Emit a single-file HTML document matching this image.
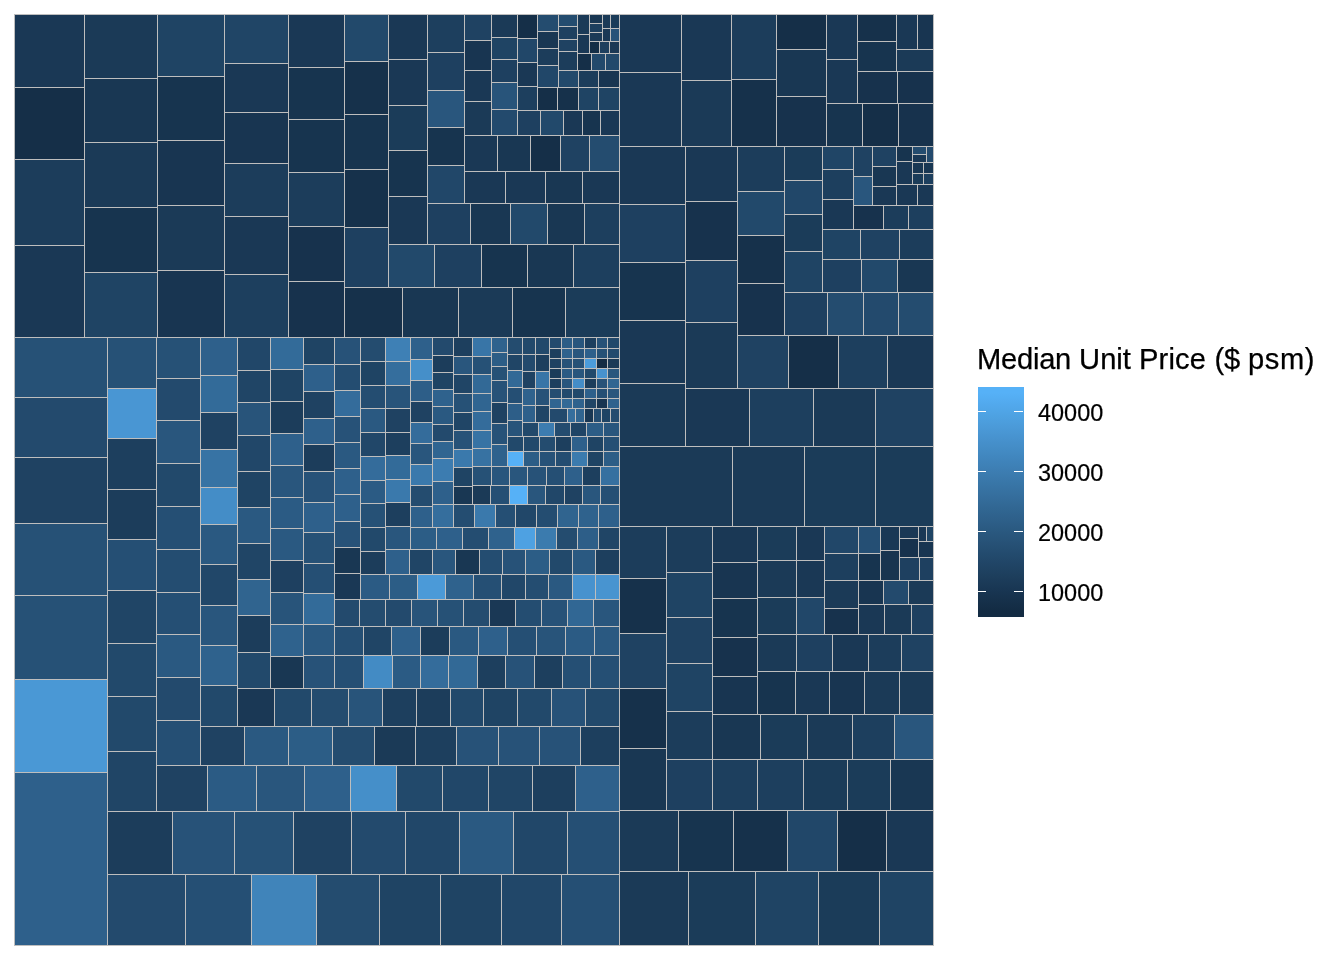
<!DOCTYPE html>
<html lang="en">
<head>
<meta charset="utf-8">
<title>Median Unit Price treemap</title>
<style>
html,body{margin:0;padding:0;background:#fff;}
body{width:1344px;height:960px;overflow:hidden;position:relative;font-family:"Liberation Sans",Arial,sans-serif;}
svg{position:absolute;left:0;top:0;display:block;}
svg text{font-family:"Liberation Sans",Arial,sans-serif;fill:#000;}
</style>
</head>
<body>
<svg width="1344" height="960" viewBox="0 0 1344 960">
<rect x="0" y="0" width="1344" height="960" fill="#ffffff"/>
<g stroke="#bebebe" stroke-width="1.0" stroke-linejoin="miter" shape-rendering="crispEdges">
<rect x="14.5" y="14.5" width="70" height="73" fill="#1a3855"/>
<rect x="14.5" y="87.5" width="70" height="72" fill="#152f48"/>
<rect x="14.5" y="159.5" width="70" height="86" fill="#1c3d5b"/>
<rect x="14.5" y="245.5" width="70" height="92" fill="#1a3855"/>
<rect x="84.5" y="14.5" width="73" height="64" fill="#1b3a57"/>
<rect x="84.5" y="78.5" width="73" height="64" fill="#193753"/>
<rect x="84.5" y="142.5" width="73" height="65" fill="#1b3a57"/>
<rect x="84.5" y="207.5" width="73" height="65" fill="#17344f"/>
<rect x="84.5" y="272.5" width="73" height="65" fill="#1f4464"/>
<rect x="157.5" y="14.5" width="67" height="62" fill="#1f4464"/>
<rect x="157.5" y="76.5" width="67" height="64" fill="#17344f"/>
<rect x="157.5" y="140.5" width="67" height="65" fill="#183551"/>
<rect x="157.5" y="205.5" width="67" height="65" fill="#1b3a57"/>
<rect x="157.5" y="270.5" width="67" height="67" fill="#183551"/>
<rect x="224.5" y="14.5" width="64" height="49" fill="#204566"/>
<rect x="224.5" y="63.5" width="64" height="49" fill="#1a3855"/>
<rect x="224.5" y="112.5" width="64" height="51" fill="#183551"/>
<rect x="224.5" y="163.5" width="64" height="53" fill="#1c3d5b"/>
<rect x="224.5" y="216.5" width="64" height="58" fill="#1a3855"/>
<rect x="224.5" y="274.5" width="64" height="63" fill="#1d3f5e"/>
<rect x="288.5" y="14.5" width="56" height="53" fill="#1a3855"/>
<rect x="288.5" y="67.5" width="56" height="52" fill="#17344f"/>
<rect x="288.5" y="119.5" width="56" height="53" fill="#17344f"/>
<rect x="288.5" y="172.5" width="56" height="54" fill="#1c3d5b"/>
<rect x="288.5" y="226.5" width="56" height="55" fill="#17324d"/>
<rect x="288.5" y="281.5" width="56" height="56" fill="#17324d"/>
<rect x="344.5" y="14.5" width="44" height="47" fill="#22496b"/>
<rect x="344.5" y="61.5" width="44" height="53" fill="#16314b"/>
<rect x="344.5" y="114.5" width="44" height="55" fill="#17344f"/>
<rect x="344.5" y="169.5" width="44" height="58" fill="#16314b"/>
<rect x="344.5" y="227.5" width="44" height="60" fill="#1e4060"/>
<rect x="388.5" y="14.5" width="39" height="45" fill="#1a3855"/>
<rect x="388.5" y="59.5" width="39" height="46" fill="#1a3855"/>
<rect x="388.5" y="105.5" width="39" height="45" fill="#1b3c59"/>
<rect x="388.5" y="150.5" width="39" height="46" fill="#17344f"/>
<rect x="388.5" y="196.5" width="39" height="48" fill="#1a3855"/>
<rect x="427.5" y="14.5" width="37" height="38" fill="#1d3f5e"/>
<rect x="427.5" y="52.5" width="37" height="38" fill="#1e4060"/>
<rect x="427.5" y="90.5" width="37" height="37" fill="#29567d"/>
<rect x="427.5" y="127.5" width="37" height="38" fill="#17344f"/>
<rect x="427.5" y="165.5" width="37" height="38" fill="#214769"/>
<rect x="464.5" y="14.5" width="27" height="26" fill="#1f4262"/>
<rect x="464.5" y="40.5" width="27" height="30" fill="#183551"/>
<rect x="464.5" y="70.5" width="27" height="31" fill="#1a3855"/>
<rect x="464.5" y="101.5" width="27" height="34" fill="#1b3a57"/>
<rect x="491.5" y="14.5" width="26" height="23" fill="#1b3a57"/>
<rect x="491.5" y="37.5" width="26" height="22" fill="#1f4464"/>
<rect x="491.5" y="59.5" width="26" height="23" fill="#1e4060"/>
<rect x="491.5" y="82.5" width="26" height="27" fill="#28547a"/>
<rect x="491.5" y="109.5" width="26" height="26" fill="#234a6d"/>
<rect x="517.5" y="14.5" width="20" height="24" fill="#152f48"/>
<rect x="517.5" y="38.5" width="20" height="24" fill="#214769"/>
<rect x="517.5" y="62.5" width="20" height="24" fill="#1a3855"/>
<rect x="517.5" y="86.5" width="20" height="24" fill="#1d3f5e"/>
<rect x="537.5" y="14.5" width="21" height="17" fill="#244c6f"/>
<rect x="537.5" y="31.5" width="21" height="17" fill="#193753"/>
<rect x="537.5" y="48.5" width="21" height="17" fill="#1c3d5b"/>
<rect x="537.5" y="65.5" width="21" height="22" fill="#214769"/>
<rect x="558.5" y="14.5" width="19" height="12" fill="#244c6f"/>
<rect x="558.5" y="26.5" width="19" height="13" fill="#1e4060"/>
<rect x="558.5" y="39.5" width="19" height="12" fill="#1f4262"/>
<rect x="558.5" y="51.5" width="19" height="19" fill="#1c3d5b"/>
<rect x="577.5" y="14.5" width="12" height="20" fill="#1b3a57"/>
<rect x="577.5" y="34.5" width="12" height="19" fill="#1a3855"/>
<rect x="589.5" y="14.5" width="13" height="9" fill="#193753"/>
<rect x="589.5" y="23.5" width="13" height="9" fill="#1d3f5e"/>
<rect x="589.5" y="32.5" width="13" height="9" fill="#1b3a57"/>
<rect x="602.5" y="14.5" width="8" height="14" fill="#1b3a57"/>
<rect x="602.5" y="28.5" width="8" height="13" fill="#1a3855"/>
<rect x="610.5" y="14.5" width="9" height="14" fill="#1b3c59"/>
<rect x="610.5" y="28.5" width="9" height="13" fill="#275278"/>
<rect x="589.5" y="41.5" width="10" height="12" fill="#142e46"/>
<rect x="599.5" y="41.5" width="10" height="12" fill="#1d3f5e"/>
<rect x="609.5" y="41.5" width="10" height="12" fill="#1a3855"/>
<rect x="577.5" y="53.5" width="14" height="17" fill="#152f48"/>
<rect x="591.5" y="53.5" width="14" height="17" fill="#22496b"/>
<rect x="605.5" y="53.5" width="14" height="17" fill="#22496b"/>
<rect x="558.5" y="70.5" width="20" height="17" fill="#22496b"/>
<rect x="578.5" y="70.5" width="20" height="17" fill="#1c3d5b"/>
<rect x="598.5" y="70.5" width="21" height="17" fill="#183551"/>
<rect x="537.5" y="87.5" width="20" height="23" fill="#152f48"/>
<rect x="557.5" y="87.5" width="21" height="23" fill="#16314b"/>
<rect x="578.5" y="87.5" width="20" height="23" fill="#1f4464"/>
<rect x="598.5" y="87.5" width="21" height="23" fill="#1f4464"/>
<rect x="517.5" y="110.5" width="23" height="25" fill="#1e4060"/>
<rect x="540.5" y="110.5" width="23" height="25" fill="#22496b"/>
<rect x="563.5" y="110.5" width="19" height="25" fill="#1a3855"/>
<rect x="582.5" y="110.5" width="18" height="25" fill="#17344f"/>
<rect x="600.5" y="110.5" width="19" height="25" fill="#1a3855"/>
<rect x="464.5" y="135.5" width="33" height="36" fill="#1a3855"/>
<rect x="497.5" y="135.5" width="33" height="36" fill="#193753"/>
<rect x="530.5" y="135.5" width="30" height="36" fill="#152f48"/>
<rect x="560.5" y="135.5" width="29" height="36" fill="#1f4262"/>
<rect x="589.5" y="135.5" width="30" height="36" fill="#244c6f"/>
<rect x="464.5" y="171.5" width="41" height="32" fill="#1a3855"/>
<rect x="505.5" y="171.5" width="40" height="32" fill="#1a3855"/>
<rect x="545.5" y="171.5" width="37" height="32" fill="#193753"/>
<rect x="582.5" y="171.5" width="37" height="32" fill="#1a3855"/>
<rect x="427.5" y="203.5" width="43" height="41" fill="#1e4060"/>
<rect x="470.5" y="203.5" width="40" height="41" fill="#193753"/>
<rect x="510.5" y="203.5" width="37" height="41" fill="#22496b"/>
<rect x="547.5" y="203.5" width="37" height="41" fill="#193753"/>
<rect x="584.5" y="203.5" width="35" height="41" fill="#1d3f5e"/>
<rect x="388.5" y="244.5" width="46" height="43" fill="#22496b"/>
<rect x="434.5" y="244.5" width="47" height="43" fill="#1e4060"/>
<rect x="481.5" y="244.5" width="46" height="43" fill="#17344f"/>
<rect x="527.5" y="244.5" width="46" height="43" fill="#193753"/>
<rect x="573.5" y="244.5" width="46" height="43" fill="#1d3f5e"/>
<rect x="344.5" y="287.5" width="58" height="50" fill="#16314b"/>
<rect x="402.5" y="287.5" width="56" height="50" fill="#193753"/>
<rect x="458.5" y="287.5" width="54" height="50" fill="#1b3a57"/>
<rect x="512.5" y="287.5" width="53" height="50" fill="#17344f"/>
<rect x="565.5" y="287.5" width="54" height="50" fill="#1b3c59"/>
<rect x="14.5" y="337.5" width="93" height="60" fill="#265176"/>
<rect x="14.5" y="397.5" width="93" height="60" fill="#234a6d"/>
<rect x="14.5" y="457.5" width="93" height="66" fill="#1f4262"/>
<rect x="14.5" y="523.5" width="93" height="72" fill="#265176"/>
<rect x="14.5" y="595.5" width="93" height="84" fill="#265176"/>
<rect x="14.5" y="679.5" width="93" height="93" fill="#4a98d5"/>
<rect x="14.5" y="772.5" width="93" height="173" fill="#2e608b"/>
<rect x="107.5" y="337.5" width="49" height="51" fill="#265176"/>
<rect x="107.5" y="388.5" width="49" height="50" fill="#4996d3"/>
<rect x="107.5" y="438.5" width="49" height="51" fill="#1d3f5e"/>
<rect x="107.5" y="489.5" width="49" height="50" fill="#1c3d5b"/>
<rect x="107.5" y="539.5" width="49" height="51" fill="#254f74"/>
<rect x="107.5" y="590.5" width="49" height="53" fill="#204566"/>
<rect x="107.5" y="643.5" width="49" height="53" fill="#22496b"/>
<rect x="107.5" y="696.5" width="49" height="55" fill="#22496b"/>
<rect x="107.5" y="751.5" width="49" height="60" fill="#204566"/>
<rect x="156.5" y="337.5" width="44" height="41" fill="#265176"/>
<rect x="156.5" y="378.5" width="44" height="42" fill="#234a6d"/>
<rect x="156.5" y="420.5" width="44" height="43" fill="#29567d"/>
<rect x="156.5" y="463.5" width="44" height="43" fill="#22496b"/>
<rect x="156.5" y="506.5" width="44" height="43" fill="#254f74"/>
<rect x="156.5" y="549.5" width="44" height="43" fill="#244d71"/>
<rect x="156.5" y="592.5" width="44" height="42" fill="#254f74"/>
<rect x="156.5" y="634.5" width="44" height="43" fill="#2a5981"/>
<rect x="156.5" y="677.5" width="44" height="43" fill="#234a6d"/>
<rect x="156.5" y="720.5" width="44" height="45" fill="#254f74"/>
<rect x="200.5" y="337.5" width="37" height="38" fill="#2e608b"/>
<rect x="200.5" y="375.5" width="37" height="37" fill="#336b99"/>
<rect x="200.5" y="412.5" width="37" height="37" fill="#1f4262"/>
<rect x="200.5" y="449.5" width="37" height="38" fill="#3773a4"/>
<rect x="200.5" y="487.5" width="37" height="37" fill="#448dc7"/>
<rect x="200.5" y="524.5" width="37" height="40" fill="#2a5981"/>
<rect x="200.5" y="564.5" width="37" height="41" fill="#214769"/>
<rect x="200.5" y="605.5" width="37" height="40" fill="#29567d"/>
<rect x="200.5" y="645.5" width="37" height="40" fill="#2f628d"/>
<rect x="200.5" y="685.5" width="37" height="41" fill="#22496b"/>
<rect x="237.5" y="337.5" width="33" height="33" fill="#214769"/>
<rect x="237.5" y="370.5" width="33" height="32" fill="#204566"/>
<rect x="237.5" y="402.5" width="33" height="33" fill="#28547a"/>
<rect x="237.5" y="435.5" width="33" height="36" fill="#214769"/>
<rect x="237.5" y="471.5" width="33" height="36" fill="#1f4464"/>
<rect x="237.5" y="507.5" width="33" height="36" fill="#2a5981"/>
<rect x="237.5" y="543.5" width="33" height="36" fill="#204566"/>
<rect x="237.5" y="579.5" width="33" height="36" fill="#30648f"/>
<rect x="237.5" y="615.5" width="33" height="37" fill="#1c3d5b"/>
<rect x="237.5" y="652.5" width="33" height="36" fill="#22496b"/>
<rect x="270.5" y="337.5" width="33" height="32" fill="#336b99"/>
<rect x="270.5" y="369.5" width="33" height="32" fill="#1f4464"/>
<rect x="270.5" y="401.5" width="33" height="32" fill="#1c3d5b"/>
<rect x="270.5" y="433.5" width="33" height="32" fill="#2e608b"/>
<rect x="270.5" y="465.5" width="33" height="32" fill="#29567d"/>
<rect x="270.5" y="497.5" width="33" height="31" fill="#2b5b84"/>
<rect x="270.5" y="528.5" width="33" height="32" fill="#2a5981"/>
<rect x="270.5" y="560.5" width="33" height="32" fill="#1e4060"/>
<rect x="270.5" y="592.5" width="33" height="32" fill="#28547a"/>
<rect x="270.5" y="624.5" width="33" height="32" fill="#2f628d"/>
<rect x="270.5" y="656.5" width="33" height="32" fill="#193753"/>
<rect x="303.5" y="337.5" width="31" height="27" fill="#1f4464"/>
<rect x="303.5" y="364.5" width="31" height="27" fill="#2e608b"/>
<rect x="303.5" y="391.5" width="31" height="27" fill="#1f4262"/>
<rect x="303.5" y="418.5" width="31" height="26" fill="#2e608b"/>
<rect x="303.5" y="444.5" width="31" height="27" fill="#1c3d5b"/>
<rect x="303.5" y="471.5" width="31" height="31" fill="#275278"/>
<rect x="303.5" y="502.5" width="31" height="30" fill="#2e608b"/>
<rect x="303.5" y="532.5" width="31" height="31" fill="#265176"/>
<rect x="303.5" y="563.5" width="31" height="30" fill="#254f74"/>
<rect x="303.5" y="593.5" width="31" height="31" fill="#336b99"/>
<rect x="303.5" y="624.5" width="31" height="31" fill="#2a5981"/>
<rect x="303.5" y="655.5" width="31" height="33" fill="#275278"/>
<rect x="334.5" y="337.5" width="26" height="27" fill="#275278"/>
<rect x="334.5" y="364.5" width="26" height="26" fill="#244d71"/>
<rect x="334.5" y="390.5" width="26" height="26" fill="#346c9b"/>
<rect x="334.5" y="416.5" width="26" height="26" fill="#275278"/>
<rect x="334.5" y="442.5" width="26" height="26" fill="#2a5981"/>
<rect x="334.5" y="468.5" width="26" height="26" fill="#2e608b"/>
<rect x="334.5" y="494.5" width="26" height="27" fill="#2e608b"/>
<rect x="334.5" y="521.5" width="26" height="26" fill="#275278"/>
<rect x="334.5" y="547.5" width="26" height="26" fill="#193753"/>
<rect x="334.5" y="573.5" width="26" height="26" fill="#1a3855"/>
<rect x="360.5" y="337.5" width="25" height="24" fill="#244c6f"/>
<rect x="360.5" y="361.5" width="25" height="24" fill="#1f4464"/>
<rect x="360.5" y="385.5" width="25" height="23" fill="#244d71"/>
<rect x="360.5" y="408.5" width="25" height="24" fill="#2a5981"/>
<rect x="360.5" y="432.5" width="25" height="24" fill="#214769"/>
<rect x="360.5" y="456.5" width="25" height="24" fill="#346c9b"/>
<rect x="360.5" y="480.5" width="25" height="23" fill="#2b5b84"/>
<rect x="360.5" y="503.5" width="25" height="24" fill="#265176"/>
<rect x="360.5" y="527.5" width="25" height="24" fill="#22496b"/>
<rect x="360.5" y="551.5" width="25" height="23" fill="#1c3d5b"/>
<rect x="385.5" y="337.5" width="25" height="24" fill="#3e80b5"/>
<rect x="385.5" y="361.5" width="25" height="24" fill="#356e9d"/>
<rect x="385.5" y="385.5" width="25" height="23" fill="#28547a"/>
<rect x="385.5" y="408.5" width="25" height="24" fill="#1f4262"/>
<rect x="385.5" y="432.5" width="25" height="23" fill="#1d3f5e"/>
<rect x="385.5" y="455.5" width="25" height="24" fill="#336b99"/>
<rect x="385.5" y="479.5" width="25" height="23" fill="#3a79ac"/>
<rect x="385.5" y="502.5" width="25" height="24" fill="#1d3f5e"/>
<rect x="385.5" y="526.5" width="25" height="23" fill="#29567d"/>
<rect x="410.5" y="337.5" width="22" height="22" fill="#2e608b"/>
<rect x="410.5" y="359.5" width="22" height="21" fill="#458fc9"/>
<rect x="410.5" y="380.5" width="22" height="21" fill="#2d5e88"/>
<rect x="410.5" y="401.5" width="22" height="21" fill="#1f4262"/>
<rect x="410.5" y="422.5" width="22" height="21" fill="#346c9b"/>
<rect x="410.5" y="443.5" width="22" height="21" fill="#29567d"/>
<rect x="410.5" y="464.5" width="22" height="21" fill="#3a79ac"/>
<rect x="410.5" y="485.5" width="22" height="21" fill="#244c6f"/>
<rect x="410.5" y="506.5" width="22" height="21" fill="#2e608b"/>
<rect x="432.5" y="337.5" width="21" height="18" fill="#234a6d"/>
<rect x="432.5" y="355.5" width="21" height="17" fill="#1c3d5b"/>
<rect x="432.5" y="372.5" width="21" height="17" fill="#1f4464"/>
<rect x="432.5" y="389.5" width="21" height="17" fill="#2f628d"/>
<rect x="432.5" y="406.5" width="21" height="18" fill="#2a5981"/>
<rect x="432.5" y="424.5" width="21" height="17" fill="#234a6d"/>
<rect x="432.5" y="441.5" width="21" height="17" fill="#306591"/>
<rect x="432.5" y="458.5" width="21" height="23" fill="#3c7cb0"/>
<rect x="432.5" y="481.5" width="21" height="23" fill="#2e608b"/>
<rect x="432.5" y="504.5" width="21" height="23" fill="#356e9d"/>
<rect x="453.5" y="337.5" width="19" height="19" fill="#1d3f5e"/>
<rect x="453.5" y="356.5" width="19" height="18" fill="#29567d"/>
<rect x="453.5" y="374.5" width="19" height="19" fill="#204566"/>
<rect x="453.5" y="393.5" width="19" height="19" fill="#265176"/>
<rect x="453.5" y="412.5" width="19" height="18" fill="#204566"/>
<rect x="453.5" y="430.5" width="19" height="19" fill="#275278"/>
<rect x="453.5" y="449.5" width="19" height="18" fill="#3a79ac"/>
<rect x="453.5" y="467.5" width="19" height="19" fill="#1f4464"/>
<rect x="453.5" y="486.5" width="19" height="18" fill="#193753"/>
<rect x="472.5" y="337.5" width="19" height="19" fill="#3875a7"/>
<rect x="472.5" y="356.5" width="19" height="18" fill="#265176"/>
<rect x="472.5" y="374.5" width="19" height="19" fill="#326996"/>
<rect x="472.5" y="393.5" width="19" height="18" fill="#306591"/>
<rect x="472.5" y="411.5" width="19" height="19" fill="#346c9b"/>
<rect x="472.5" y="430.5" width="19" height="18" fill="#3773a4"/>
<rect x="472.5" y="448.5" width="19" height="18" fill="#3772a2"/>
<rect x="491.5" y="337.5" width="16" height="15" fill="#2f628d"/>
<rect x="491.5" y="352.5" width="16" height="14" fill="#2c5d86"/>
<rect x="491.5" y="366.5" width="16" height="14" fill="#265176"/>
<rect x="491.5" y="380.5" width="16" height="22" fill="#275278"/>
<rect x="491.5" y="402.5" width="16" height="21" fill="#1f4262"/>
<rect x="491.5" y="423.5" width="16" height="21" fill="#275278"/>
<rect x="491.5" y="444.5" width="16" height="22" fill="#2f628d"/>
<rect x="507.5" y="337.5" width="15" height="17" fill="#244c6f"/>
<rect x="507.5" y="354.5" width="15" height="16" fill="#204566"/>
<rect x="507.5" y="370.5" width="15" height="17" fill="#326996"/>
<rect x="507.5" y="387.5" width="15" height="16" fill="#254f74"/>
<rect x="507.5" y="403.5" width="15" height="17" fill="#2d5e88"/>
<rect x="507.5" y="420.5" width="15" height="16" fill="#28547a"/>
<rect x="522.5" y="337.5" width="13" height="17" fill="#22496b"/>
<rect x="522.5" y="354.5" width="13" height="17" fill="#234a6d"/>
<rect x="522.5" y="371.5" width="13" height="17" fill="#1f4262"/>
<rect x="522.5" y="388.5" width="13" height="17" fill="#2f628d"/>
<rect x="522.5" y="405.5" width="13" height="17" fill="#2e608b"/>
<rect x="535.5" y="337.5" width="14" height="17" fill="#22496b"/>
<rect x="535.5" y="354.5" width="14" height="17" fill="#1d3f5e"/>
<rect x="535.5" y="371.5" width="14" height="17" fill="#3875a7"/>
<rect x="535.5" y="388.5" width="14" height="17" fill="#275278"/>
<rect x="535.5" y="405.5" width="14" height="17" fill="#204566"/>
<rect x="549.5" y="337.5" width="12" height="11" fill="#234a6d"/>
<rect x="561.5" y="337.5" width="11" height="11" fill="#2c5d86"/>
<rect x="572.5" y="337.5" width="12" height="11" fill="#29567d"/>
<rect x="584.5" y="337.5" width="12" height="11" fill="#1d3f5e"/>
<rect x="596.5" y="337.5" width="11" height="11" fill="#275278"/>
<rect x="607.5" y="337.5" width="12" height="11" fill="#22496b"/>
<rect x="549.5" y="348.5" width="12" height="10" fill="#1d3f5e"/>
<rect x="561.5" y="348.5" width="11" height="10" fill="#2f628d"/>
<rect x="572.5" y="348.5" width="12" height="10" fill="#29567d"/>
<rect x="584.5" y="348.5" width="12" height="10" fill="#2e608b"/>
<rect x="596.5" y="348.5" width="11" height="10" fill="#265176"/>
<rect x="607.5" y="348.5" width="12" height="10" fill="#234a6d"/>
<rect x="549.5" y="358.5" width="12" height="10" fill="#1f4262"/>
<rect x="561.5" y="358.5" width="11" height="10" fill="#275278"/>
<rect x="572.5" y="358.5" width="12" height="10" fill="#265176"/>
<rect x="584.5" y="358.5" width="12" height="10" fill="#4b9cdb"/>
<rect x="596.5" y="358.5" width="11" height="10" fill="#142c44"/>
<rect x="607.5" y="358.5" width="12" height="10" fill="#1b3a57"/>
<rect x="549.5" y="368.5" width="12" height="10" fill="#1b3c59"/>
<rect x="561.5" y="368.5" width="11" height="10" fill="#2b5b84"/>
<rect x="572.5" y="368.5" width="12" height="10" fill="#29567d"/>
<rect x="584.5" y="368.5" width="12" height="10" fill="#22496b"/>
<rect x="596.5" y="368.5" width="11" height="10" fill="#4792ce"/>
<rect x="607.5" y="368.5" width="12" height="10" fill="#29567d"/>
<rect x="549.5" y="378.5" width="12" height="10" fill="#1d3f5e"/>
<rect x="561.5" y="378.5" width="11" height="10" fill="#29567d"/>
<rect x="572.5" y="378.5" width="12" height="10" fill="#448dc7"/>
<rect x="584.5" y="378.5" width="12" height="10" fill="#1c3d5b"/>
<rect x="596.5" y="378.5" width="11" height="10" fill="#275278"/>
<rect x="607.5" y="378.5" width="12" height="10" fill="#306591"/>
<rect x="549.5" y="388.5" width="12" height="10" fill="#244d71"/>
<rect x="561.5" y="388.5" width="11" height="10" fill="#234a6d"/>
<rect x="572.5" y="388.5" width="12" height="10" fill="#22496b"/>
<rect x="584.5" y="388.5" width="12" height="10" fill="#2e608b"/>
<rect x="596.5" y="388.5" width="11" height="10" fill="#254f74"/>
<rect x="607.5" y="388.5" width="12" height="10" fill="#29567d"/>
<rect x="549.5" y="398.5" width="12" height="10" fill="#306591"/>
<rect x="561.5" y="398.5" width="11" height="10" fill="#326996"/>
<rect x="572.5" y="398.5" width="12" height="10" fill="#2f628d"/>
<rect x="584.5" y="398.5" width="12" height="10" fill="#204566"/>
<rect x="596.5" y="398.5" width="11" height="10" fill="#183551"/>
<rect x="607.5" y="398.5" width="12" height="10" fill="#2f628d"/>
<rect x="549.5" y="408.5" width="18" height="14" fill="#234a6d"/>
<rect x="567.5" y="408.5" width="8" height="14" fill="#356e9d"/>
<rect x="575.5" y="408.5" width="9" height="14" fill="#30648f"/>
<rect x="584.5" y="408.5" width="9" height="14" fill="#193753"/>
<rect x="593.5" y="408.5" width="8" height="14" fill="#244d71"/>
<rect x="601.5" y="408.5" width="9" height="14" fill="#1f4464"/>
<rect x="610.5" y="408.5" width="9" height="14" fill="#244c6f"/>
<rect x="522.5" y="422.5" width="16" height="14" fill="#22496b"/>
<rect x="538.5" y="422.5" width="16" height="14" fill="#3c7cb0"/>
<rect x="554.5" y="422.5" width="16" height="14" fill="#244c6f"/>
<rect x="570.5" y="422.5" width="16" height="14" fill="#204566"/>
<rect x="586.5" y="422.5" width="17" height="14" fill="#2c5d86"/>
<rect x="603.5" y="422.5" width="16" height="14" fill="#29567d"/>
<rect x="507.5" y="436.5" width="16" height="15" fill="#22496b"/>
<rect x="523.5" y="436.5" width="16" height="15" fill="#22496b"/>
<rect x="539.5" y="436.5" width="16" height="15" fill="#244c6f"/>
<rect x="555.5" y="436.5" width="16" height="15" fill="#1d3f5e"/>
<rect x="571.5" y="436.5" width="16" height="15" fill="#2e608b"/>
<rect x="587.5" y="436.5" width="16" height="15" fill="#1f4464"/>
<rect x="603.5" y="436.5" width="16" height="15" fill="#254f74"/>
<rect x="507.5" y="451.5" width="16" height="15" fill="#56b1f7"/>
<rect x="523.5" y="451.5" width="16" height="15" fill="#2c5d86"/>
<rect x="539.5" y="451.5" width="16" height="15" fill="#275278"/>
<rect x="555.5" y="451.5" width="16" height="15" fill="#244d71"/>
<rect x="571.5" y="451.5" width="16" height="15" fill="#3b7bae"/>
<rect x="587.5" y="451.5" width="16" height="15" fill="#1f4464"/>
<rect x="603.5" y="451.5" width="16" height="15" fill="#2c5d86"/>
<rect x="472.5" y="466.5" width="19" height="19" fill="#265176"/>
<rect x="491.5" y="466.5" width="18" height="19" fill="#29567d"/>
<rect x="509.5" y="466.5" width="18" height="19" fill="#29567d"/>
<rect x="527.5" y="466.5" width="19" height="19" fill="#275278"/>
<rect x="546.5" y="466.5" width="18" height="19" fill="#254f74"/>
<rect x="564.5" y="466.5" width="18" height="19" fill="#2e608b"/>
<rect x="582.5" y="466.5" width="18" height="19" fill="#1d3f5e"/>
<rect x="600.5" y="466.5" width="19" height="19" fill="#3670a0"/>
<rect x="472.5" y="485.5" width="18" height="19" fill="#1b3a57"/>
<rect x="490.5" y="485.5" width="19" height="19" fill="#254f74"/>
<rect x="509.5" y="485.5" width="18" height="19" fill="#56b1f7"/>
<rect x="527.5" y="485.5" width="18" height="19" fill="#29567d"/>
<rect x="545.5" y="485.5" width="19" height="19" fill="#214769"/>
<rect x="564.5" y="485.5" width="18" height="19" fill="#1f4262"/>
<rect x="582.5" y="485.5" width="18" height="19" fill="#29567d"/>
<rect x="600.5" y="485.5" width="19" height="19" fill="#254f74"/>
<rect x="453.5" y="504.5" width="21" height="23" fill="#244d71"/>
<rect x="474.5" y="504.5" width="21" height="23" fill="#3a79ac"/>
<rect x="495.5" y="504.5" width="20" height="23" fill="#254f74"/>
<rect x="515.5" y="504.5" width="21" height="23" fill="#214769"/>
<rect x="536.5" y="504.5" width="21" height="23" fill="#244d71"/>
<rect x="557.5" y="504.5" width="21" height="23" fill="#30648f"/>
<rect x="578.5" y="504.5" width="20" height="23" fill="#2f628d"/>
<rect x="598.5" y="504.5" width="21" height="23" fill="#2e608b"/>
<rect x="410.5" y="527.5" width="26" height="22" fill="#2c5d86"/>
<rect x="436.5" y="527.5" width="26" height="22" fill="#2e608b"/>
<rect x="462.5" y="527.5" width="26" height="22" fill="#244d71"/>
<rect x="488.5" y="527.5" width="26" height="22" fill="#2f628d"/>
<rect x="514.5" y="527.5" width="21" height="22" fill="#4ea1e2"/>
<rect x="535.5" y="527.5" width="21" height="22" fill="#3b7bae"/>
<rect x="556.5" y="527.5" width="21" height="22" fill="#244c6f"/>
<rect x="577.5" y="527.5" width="21" height="22" fill="#2d5e88"/>
<rect x="598.5" y="527.5" width="21" height="22" fill="#204566"/>
<rect x="385.5" y="549.5" width="24" height="25" fill="#2e608b"/>
<rect x="409.5" y="549.5" width="23" height="25" fill="#204566"/>
<rect x="432.5" y="549.5" width="23" height="25" fill="#29567d"/>
<rect x="455.5" y="549.5" width="24" height="25" fill="#193753"/>
<rect x="479.5" y="549.5" width="23" height="25" fill="#244d71"/>
<rect x="502.5" y="549.5" width="23" height="25" fill="#275278"/>
<rect x="525.5" y="549.5" width="24" height="25" fill="#2c5d86"/>
<rect x="549.5" y="549.5" width="23" height="25" fill="#22496b"/>
<rect x="572.5" y="549.5" width="23" height="25" fill="#2a5981"/>
<rect x="595.5" y="549.5" width="24" height="25" fill="#1d3f5e"/>
<rect x="360.5" y="574.5" width="29" height="25" fill="#2b5b84"/>
<rect x="389.5" y="574.5" width="28" height="25" fill="#2c5d86"/>
<rect x="417.5" y="574.5" width="28" height="25" fill="#4b9ad8"/>
<rect x="445.5" y="574.5" width="28" height="25" fill="#2f628d"/>
<rect x="473.5" y="574.5" width="28" height="25" fill="#254f74"/>
<rect x="501.5" y="574.5" width="24" height="25" fill="#214769"/>
<rect x="525.5" y="574.5" width="23" height="25" fill="#244d71"/>
<rect x="548.5" y="574.5" width="24" height="25" fill="#2a5981"/>
<rect x="572.5" y="574.5" width="23" height="25" fill="#4792ce"/>
<rect x="595.5" y="574.5" width="24" height="25" fill="#4894d0"/>
<rect x="334.5" y="599.5" width="25" height="27" fill="#234a6d"/>
<rect x="359.5" y="599.5" width="26" height="27" fill="#244c6f"/>
<rect x="385.5" y="599.5" width="26" height="27" fill="#234a6d"/>
<rect x="411.5" y="599.5" width="26" height="27" fill="#28547a"/>
<rect x="437.5" y="599.5" width="26" height="27" fill="#265176"/>
<rect x="463.5" y="599.5" width="26" height="27" fill="#244c6f"/>
<rect x="489.5" y="599.5" width="26" height="27" fill="#1a3855"/>
<rect x="515.5" y="599.5" width="26" height="27" fill="#244d71"/>
<rect x="541.5" y="599.5" width="26" height="27" fill="#275278"/>
<rect x="567.5" y="599.5" width="26" height="27" fill="#316794"/>
<rect x="593.5" y="599.5" width="26" height="27" fill="#29567d"/>
<rect x="334.5" y="626.5" width="29" height="29" fill="#254f74"/>
<rect x="363.5" y="626.5" width="28" height="29" fill="#204566"/>
<rect x="391.5" y="626.5" width="29" height="29" fill="#2e608b"/>
<rect x="420.5" y="626.5" width="29" height="29" fill="#1c3d5b"/>
<rect x="449.5" y="626.5" width="29" height="29" fill="#2a5981"/>
<rect x="478.5" y="626.5" width="29" height="29" fill="#2e608b"/>
<rect x="507.5" y="626.5" width="29" height="29" fill="#254f74"/>
<rect x="536.5" y="626.5" width="29" height="29" fill="#28547a"/>
<rect x="565.5" y="626.5" width="29" height="29" fill="#2b5b84"/>
<rect x="594.5" y="626.5" width="25" height="29" fill="#2a5981"/>
<rect x="334.5" y="655.5" width="29" height="33" fill="#254f74"/>
<rect x="363.5" y="655.5" width="29" height="33" fill="#438bc4"/>
<rect x="392.5" y="655.5" width="28" height="33" fill="#2b5b84"/>
<rect x="420.5" y="655.5" width="28" height="33" fill="#346c9b"/>
<rect x="448.5" y="655.5" width="29" height="33" fill="#326996"/>
<rect x="477.5" y="655.5" width="28" height="33" fill="#1d3f5e"/>
<rect x="505.5" y="655.5" width="29" height="33" fill="#275278"/>
<rect x="534.5" y="655.5" width="28" height="33" fill="#1d3f5e"/>
<rect x="562.5" y="655.5" width="28" height="33" fill="#254f74"/>
<rect x="590.5" y="655.5" width="29" height="33" fill="#254f74"/>
<rect x="237.5" y="688.5" width="37" height="38" fill="#1a3855"/>
<rect x="274.5" y="688.5" width="37" height="38" fill="#22496b"/>
<rect x="311.5" y="688.5" width="37" height="38" fill="#244c6f"/>
<rect x="348.5" y="688.5" width="34" height="38" fill="#28547a"/>
<rect x="382.5" y="688.5" width="34" height="38" fill="#1d3f5e"/>
<rect x="416.5" y="688.5" width="34" height="38" fill="#1c3d5b"/>
<rect x="450.5" y="688.5" width="33" height="38" fill="#22496b"/>
<rect x="483.5" y="688.5" width="34" height="38" fill="#1f4464"/>
<rect x="517.5" y="688.5" width="34" height="38" fill="#22496b"/>
<rect x="551.5" y="688.5" width="34" height="38" fill="#275278"/>
<rect x="585.5" y="688.5" width="34" height="38" fill="#22496b"/>
<rect x="200.5" y="726.5" width="44" height="39" fill="#1f4262"/>
<rect x="244.5" y="726.5" width="44" height="39" fill="#2a5981"/>
<rect x="288.5" y="726.5" width="44" height="39" fill="#2c5d86"/>
<rect x="332.5" y="726.5" width="42" height="39" fill="#244c6f"/>
<rect x="374.5" y="726.5" width="41" height="39" fill="#1b3a57"/>
<rect x="415.5" y="726.5" width="41" height="39" fill="#1d3f5e"/>
<rect x="456.5" y="726.5" width="42" height="39" fill="#275278"/>
<rect x="498.5" y="726.5" width="41" height="39" fill="#275278"/>
<rect x="539.5" y="726.5" width="41" height="39" fill="#275278"/>
<rect x="580.5" y="726.5" width="39" height="39" fill="#1d3f5e"/>
<rect x="156.5" y="765.5" width="51" height="46" fill="#1f4262"/>
<rect x="207.5" y="765.5" width="49" height="46" fill="#2b5b84"/>
<rect x="256.5" y="765.5" width="48" height="46" fill="#29567d"/>
<rect x="304.5" y="765.5" width="46" height="46" fill="#2e608b"/>
<rect x="350.5" y="765.5" width="46" height="46" fill="#458fc9"/>
<rect x="396.5" y="765.5" width="46" height="46" fill="#22496b"/>
<rect x="442.5" y="765.5" width="46" height="46" fill="#214769"/>
<rect x="488.5" y="765.5" width="44" height="46" fill="#204566"/>
<rect x="532.5" y="765.5" width="43" height="46" fill="#1d3f5e"/>
<rect x="575.5" y="765.5" width="44" height="46" fill="#2e608b"/>
<rect x="107.5" y="811.5" width="65" height="63" fill="#1c3d5b"/>
<rect x="172.5" y="811.5" width="62" height="63" fill="#275278"/>
<rect x="234.5" y="811.5" width="59" height="63" fill="#265176"/>
<rect x="293.5" y="811.5" width="58" height="63" fill="#1f4262"/>
<rect x="351.5" y="811.5" width="54" height="63" fill="#234a6d"/>
<rect x="405.5" y="811.5" width="54" height="63" fill="#214769"/>
<rect x="459.5" y="811.5" width="54" height="63" fill="#2a5981"/>
<rect x="513.5" y="811.5" width="54" height="63" fill="#214769"/>
<rect x="567.5" y="811.5" width="52" height="63" fill="#254f74"/>
<rect x="107.5" y="874.5" width="78" height="71" fill="#234a6d"/>
<rect x="185.5" y="874.5" width="66" height="71" fill="#254f74"/>
<rect x="251.5" y="874.5" width="65" height="71" fill="#4084ba"/>
<rect x="316.5" y="874.5" width="63" height="71" fill="#244c6f"/>
<rect x="379.5" y="874.5" width="61" height="71" fill="#1f4464"/>
<rect x="440.5" y="874.5" width="61" height="71" fill="#1f4464"/>
<rect x="501.5" y="874.5" width="60" height="71" fill="#214769"/>
<rect x="561.5" y="874.5" width="58" height="71" fill="#254f74"/>
<rect x="619.5" y="14.5" width="62" height="58" fill="#1a3855"/>
<rect x="619.5" y="72.5" width="62" height="74" fill="#1a3855"/>
<rect x="681.5" y="14.5" width="50" height="66" fill="#1a3855"/>
<rect x="681.5" y="80.5" width="50" height="66" fill="#1b3a57"/>
<rect x="731.5" y="14.5" width="45" height="65" fill="#1c3d5b"/>
<rect x="731.5" y="79.5" width="45" height="67" fill="#16314b"/>
<rect x="776.5" y="14.5" width="50" height="35" fill="#152f48"/>
<rect x="776.5" y="49.5" width="50" height="47" fill="#193753"/>
<rect x="776.5" y="96.5" width="50" height="50" fill="#17324d"/>
<rect x="826.5" y="14.5" width="31" height="45" fill="#1a3855"/>
<rect x="826.5" y="59.5" width="31" height="44" fill="#1a3855"/>
<rect x="857.5" y="14.5" width="39" height="27" fill="#16314b"/>
<rect x="857.5" y="41.5" width="39" height="30" fill="#17344f"/>
<rect x="896.5" y="14.5" width="21" height="35" fill="#1a3855"/>
<rect x="917.5" y="14.5" width="16" height="35" fill="#183551"/>
<rect x="896.5" y="49.5" width="37" height="22" fill="#1b3a57"/>
<rect x="857.5" y="71.5" width="40" height="32" fill="#17324d"/>
<rect x="897.5" y="71.5" width="36" height="32" fill="#17324d"/>
<rect x="826.5" y="103.5" width="36" height="43" fill="#17344f"/>
<rect x="862.5" y="103.5" width="36" height="43" fill="#152f48"/>
<rect x="898.5" y="103.5" width="35" height="43" fill="#17324d"/>
<rect x="619.5" y="146.5" width="66" height="58" fill="#1a3855"/>
<rect x="619.5" y="204.5" width="66" height="58" fill="#1e4060"/>
<rect x="619.5" y="262.5" width="66" height="58" fill="#17344f"/>
<rect x="619.5" y="320.5" width="66" height="63" fill="#1a3855"/>
<rect x="619.5" y="383.5" width="66" height="63" fill="#1b3a57"/>
<rect x="685.5" y="146.5" width="52" height="55" fill="#1a3855"/>
<rect x="685.5" y="201.5" width="52" height="59" fill="#17324d"/>
<rect x="685.5" y="260.5" width="52" height="62" fill="#1e4060"/>
<rect x="685.5" y="322.5" width="52" height="66" fill="#1b3a57"/>
<rect x="737.5" y="146.5" width="47" height="45" fill="#1c3d5b"/>
<rect x="737.5" y="191.5" width="47" height="44" fill="#22496b"/>
<rect x="737.5" y="235.5" width="47" height="48" fill="#16314b"/>
<rect x="737.5" y="283.5" width="47" height="52" fill="#17324d"/>
<rect x="784.5" y="146.5" width="38" height="34" fill="#1b3c59"/>
<rect x="784.5" y="180.5" width="38" height="34" fill="#214769"/>
<rect x="784.5" y="214.5" width="38" height="37" fill="#1b3c59"/>
<rect x="784.5" y="251.5" width="38" height="41" fill="#1f4464"/>
<rect x="822.5" y="146.5" width="31" height="23" fill="#204566"/>
<rect x="822.5" y="169.5" width="31" height="30" fill="#1d3f5e"/>
<rect x="822.5" y="199.5" width="31" height="30" fill="#1a3855"/>
<rect x="853.5" y="146.5" width="19" height="30" fill="#1f4262"/>
<rect x="853.5" y="176.5" width="19" height="29" fill="#29567d"/>
<rect x="872.5" y="146.5" width="24" height="20" fill="#1f4262"/>
<rect x="872.5" y="166.5" width="24" height="20" fill="#193753"/>
<rect x="872.5" y="186.5" width="24" height="19" fill="#1a3855"/>
<rect x="896.5" y="146.5" width="16" height="15" fill="#17344f"/>
<rect x="896.5" y="161.5" width="16" height="23" fill="#1a3855"/>
<rect x="912.5" y="146.5" width="14" height="8" fill="#244c6f"/>
<rect x="912.5" y="154.5" width="14" height="8" fill="#1a3855"/>
<rect x="926.5" y="146.5" width="7" height="16" fill="#234a6d"/>
<rect x="912.5" y="162.5" width="11" height="11" fill="#193753"/>
<rect x="912.5" y="173.5" width="11" height="11" fill="#1b3c59"/>
<rect x="923.5" y="162.5" width="10" height="11" fill="#193753"/>
<rect x="923.5" y="173.5" width="10" height="11" fill="#1d3f5e"/>
<rect x="896.5" y="184.5" width="21" height="21" fill="#1a3855"/>
<rect x="917.5" y="184.5" width="16" height="21" fill="#1a3855"/>
<rect x="853.5" y="205.5" width="30" height="24" fill="#17324d"/>
<rect x="883.5" y="205.5" width="25" height="24" fill="#1c3d5b"/>
<rect x="908.5" y="205.5" width="25" height="24" fill="#1d3f5e"/>
<rect x="822.5" y="229.5" width="38" height="30" fill="#1f4464"/>
<rect x="860.5" y="229.5" width="39" height="30" fill="#1f4262"/>
<rect x="899.5" y="229.5" width="34" height="30" fill="#1c3d5b"/>
<rect x="822.5" y="259.5" width="39" height="33" fill="#1e4060"/>
<rect x="861.5" y="259.5" width="36" height="33" fill="#22496b"/>
<rect x="897.5" y="259.5" width="36" height="33" fill="#193753"/>
<rect x="784.5" y="292.5" width="43" height="43" fill="#1e4060"/>
<rect x="827.5" y="292.5" width="36" height="43" fill="#244c6f"/>
<rect x="863.5" y="292.5" width="35" height="43" fill="#234a6d"/>
<rect x="898.5" y="292.5" width="35" height="43" fill="#244c6f"/>
<rect x="737.5" y="335.5" width="51" height="53" fill="#1f4262"/>
<rect x="788.5" y="335.5" width="50" height="53" fill="#152f48"/>
<rect x="838.5" y="335.5" width="49" height="53" fill="#1d3f5e"/>
<rect x="887.5" y="335.5" width="46" height="53" fill="#1a3855"/>
<rect x="685.5" y="388.5" width="64" height="58" fill="#1a3855"/>
<rect x="749.5" y="388.5" width="64" height="58" fill="#1d3f5e"/>
<rect x="813.5" y="388.5" width="62" height="58" fill="#1b3a57"/>
<rect x="875.5" y="388.5" width="58" height="58" fill="#1f4262"/>
<rect x="619.5" y="446.5" width="113" height="80" fill="#1b3a57"/>
<rect x="732.5" y="446.5" width="72" height="80" fill="#1b3a57"/>
<rect x="804.5" y="446.5" width="71" height="80" fill="#1b3c59"/>
<rect x="875.5" y="446.5" width="58" height="80" fill="#1b3c59"/>
<rect x="619.5" y="526.5" width="47" height="52" fill="#1c3d5b"/>
<rect x="619.5" y="578.5" width="47" height="55" fill="#16314b"/>
<rect x="619.5" y="633.5" width="47" height="55" fill="#1f4262"/>
<rect x="619.5" y="688.5" width="47" height="60" fill="#16314b"/>
<rect x="619.5" y="748.5" width="47" height="62" fill="#193753"/>
<rect x="666.5" y="526.5" width="46" height="46" fill="#1c3d5b"/>
<rect x="666.5" y="572.5" width="46" height="45" fill="#1f4464"/>
<rect x="666.5" y="617.5" width="46" height="46" fill="#1f4262"/>
<rect x="666.5" y="663.5" width="46" height="48" fill="#1f4464"/>
<rect x="666.5" y="711.5" width="46" height="48" fill="#1c3d5b"/>
<rect x="712.5" y="526.5" width="45" height="36" fill="#1a3855"/>
<rect x="712.5" y="562.5" width="45" height="36" fill="#183551"/>
<rect x="712.5" y="598.5" width="45" height="39" fill="#17344f"/>
<rect x="712.5" y="637.5" width="45" height="39" fill="#17324d"/>
<rect x="712.5" y="676.5" width="45" height="38" fill="#183551"/>
<rect x="757.5" y="526.5" width="39" height="34" fill="#1b3c59"/>
<rect x="757.5" y="560.5" width="39" height="37" fill="#1b3a57"/>
<rect x="757.5" y="597.5" width="39" height="37" fill="#1b3c59"/>
<rect x="796.5" y="526.5" width="28" height="34" fill="#1a3855"/>
<rect x="796.5" y="560.5" width="28" height="37" fill="#1a3855"/>
<rect x="796.5" y="597.5" width="28" height="37" fill="#214769"/>
<rect x="824.5" y="526.5" width="34" height="27" fill="#214769"/>
<rect x="824.5" y="553.5" width="34" height="27" fill="#1d3f5e"/>
<rect x="824.5" y="580.5" width="34" height="28" fill="#1b3a57"/>
<rect x="824.5" y="608.5" width="34" height="26" fill="#17324d"/>
<rect x="858.5" y="526.5" width="22" height="27" fill="#254f74"/>
<rect x="858.5" y="553.5" width="22" height="27" fill="#17344f"/>
<rect x="880.5" y="526.5" width="19" height="24" fill="#1a3855"/>
<rect x="880.5" y="550.5" width="19" height="30" fill="#17344f"/>
<rect x="899.5" y="526.5" width="19" height="12" fill="#1a3855"/>
<rect x="899.5" y="538.5" width="19" height="19" fill="#17324d"/>
<rect x="918.5" y="526.5" width="8" height="15" fill="#1a3855"/>
<rect x="926.5" y="526.5" width="7" height="15" fill="#1f4464"/>
<rect x="918.5" y="541.5" width="15" height="16" fill="#183551"/>
<rect x="899.5" y="557.5" width="20" height="23" fill="#1e4060"/>
<rect x="919.5" y="557.5" width="14" height="23" fill="#1e4060"/>
<rect x="858.5" y="580.5" width="25" height="24" fill="#183551"/>
<rect x="883.5" y="580.5" width="25" height="24" fill="#234a6d"/>
<rect x="908.5" y="580.5" width="25" height="24" fill="#1b3a57"/>
<rect x="858.5" y="604.5" width="26" height="30" fill="#1a3855"/>
<rect x="884.5" y="604.5" width="27" height="30" fill="#1b3a57"/>
<rect x="911.5" y="604.5" width="22" height="30" fill="#1e4060"/>
<rect x="757.5" y="634.5" width="39" height="37" fill="#1b3a57"/>
<rect x="796.5" y="634.5" width="36" height="37" fill="#1e4060"/>
<rect x="832.5" y="634.5" width="36" height="37" fill="#1a3855"/>
<rect x="868.5" y="634.5" width="33" height="37" fill="#1c3d5b"/>
<rect x="901.5" y="634.5" width="32" height="37" fill="#1f4262"/>
<rect x="757.5" y="671.5" width="38" height="43" fill="#17344f"/>
<rect x="795.5" y="671.5" width="34" height="43" fill="#1a3855"/>
<rect x="829.5" y="671.5" width="35" height="43" fill="#183551"/>
<rect x="864.5" y="671.5" width="35" height="43" fill="#1b3a57"/>
<rect x="899.5" y="671.5" width="34" height="43" fill="#1b3a57"/>
<rect x="712.5" y="714.5" width="48" height="45" fill="#193753"/>
<rect x="760.5" y="714.5" width="47" height="45" fill="#1b3c59"/>
<rect x="807.5" y="714.5" width="45" height="45" fill="#1b3a57"/>
<rect x="852.5" y="714.5" width="42" height="45" fill="#1d3f5e"/>
<rect x="894.5" y="714.5" width="39" height="45" fill="#29567d"/>
<rect x="666.5" y="759.5" width="46" height="51" fill="#1e4060"/>
<rect x="712.5" y="759.5" width="45" height="51" fill="#1d3f5e"/>
<rect x="757.5" y="759.5" width="46" height="51" fill="#1d3f5e"/>
<rect x="803.5" y="759.5" width="44" height="51" fill="#1b3c59"/>
<rect x="847.5" y="759.5" width="43" height="51" fill="#1b3c59"/>
<rect x="890.5" y="759.5" width="43" height="51" fill="#193753"/>
<rect x="619.5" y="810.5" width="59" height="61" fill="#1b3a57"/>
<rect x="678.5" y="810.5" width="55" height="61" fill="#17344f"/>
<rect x="733.5" y="810.5" width="54" height="61" fill="#16314b"/>
<rect x="787.5" y="810.5" width="50" height="61" fill="#214769"/>
<rect x="837.5" y="810.5" width="49" height="61" fill="#152f48"/>
<rect x="886.5" y="810.5" width="47" height="61" fill="#1a3855"/>
<rect x="619.5" y="871.5" width="69" height="74" fill="#1b3a57"/>
<rect x="688.5" y="871.5" width="67" height="74" fill="#1b3c59"/>
<rect x="755.5" y="871.5" width="63" height="74" fill="#1f4464"/>
<rect x="818.5" y="871.5" width="61" height="74" fill="#1b3c59"/>
<rect x="879.5" y="871.5" width="54" height="74" fill="#1f4464"/>
</g>
<defs><linearGradient id="lg" x1="0" y1="1" x2="0" y2="0">
<stop offset="0.0250" stop-color="#132b43"/><stop offset="0.0750" stop-color="#16314b"/><stop offset="0.1250" stop-color="#193754"/><stop offset="0.1750" stop-color="#1d3e5c"/><stop offset="0.2250" stop-color="#204465"/><stop offset="0.2750" stop-color="#234b6e"/><stop offset="0.3250" stop-color="#275277"/><stop offset="0.3750" stop-color="#2a5980"/><stop offset="0.4250" stop-color="#2e608a"/><stop offset="0.4750" stop-color="#316793"/><stop offset="0.5250" stop-color="#356e9d"/><stop offset="0.5750" stop-color="#3875a6"/><stop offset="0.6250" stop-color="#3c7cb0"/><stop offset="0.6750" stop-color="#3f83ba"/><stop offset="0.7250" stop-color="#438bc4"/><stop offset="0.7750" stop-color="#4792ce"/><stop offset="0.8250" stop-color="#4b9ad8"/><stop offset="0.8750" stop-color="#4ea2e2"/><stop offset="0.9250" stop-color="#52a9ed"/><stop offset="0.9750" stop-color="#56b1f7"/>
</linearGradient></defs>
<rect x="978" y="387" width="46" height="230" fill="url(#lg)" shape-rendering="crispEdges"/>
<path d="M978 411.5 H986 M1014 411.5 H1023" stroke="#ffffff" stroke-width="1" fill="none" shape-rendering="crispEdges"/>
<text x="1038" y="420.9" font-size="23.47" stroke="#000" stroke-width="0.2">40000</text>
<path d="M978 471.5 H986 M1014 471.5 H1023" stroke="#ffffff" stroke-width="1" fill="none" shape-rendering="crispEdges"/>
<text x="1038" y="480.9" font-size="23.47" stroke="#000" stroke-width="0.2">30000</text>
<path d="M978 531.5 H986 M1014 531.5 H1023" stroke="#ffffff" stroke-width="1" fill="none" shape-rendering="crispEdges"/>
<text x="1038" y="540.9" font-size="23.47" stroke="#000" stroke-width="0.2">20000</text>
<path d="M978 591.5 H986 M1014 591.5 H1023" stroke="#ffffff" stroke-width="1" fill="none" shape-rendering="crispEdges"/>
<text x="1038" y="600.9" font-size="23.47" stroke="#000" stroke-width="0.2">10000</text>
<text y="368.9" font-size="29.14" stroke="#000" stroke-width="0.25"><tspan x="977" letter-spacing="-0.25">Median </tspan><tspan x="1079.1" letter-spacing="0">Unit </tspan><tspan x="1139.0" letter-spacing="0.15">Price </tspan><tspan x="1214.5" letter-spacing="-0.2">($ </tspan><tspan x="1248.1" letter-spacing="0.55">psm)</tspan></text>
</svg>
</body>
</html>
